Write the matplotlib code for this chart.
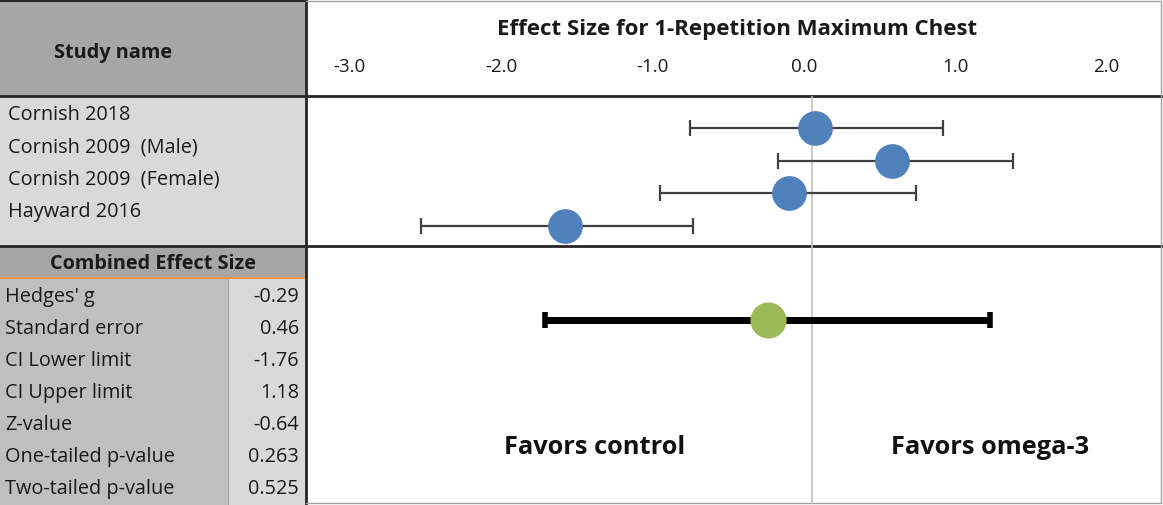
import matplotlib.pyplot as plt
from matplotlib.patches import Rectangle
import numpy as np

plt.rcParams['font.family'] = ['Open Sans', 'DejaVu Sans']

# study-level effect sizes (Hedges' g) with 95% CI
studies = ['Cornish 2018', 'Cornish 2009  (Male)', 'Cornish 2009  (Female)', 'Hayward 2016']
g = np.array([0.02, 0.53, -0.15, -1.63])
ci_lo = np.array([-0.80, -0.22, -1.00, -2.58])
ci_hi = np.array([0.87, 1.33, 0.69, -0.78])

# combined effect
comb_g = -0.29
comb_lo = -1.76
comb_hi = 1.18
stat_names = ["Hedges' g", 'Standard error', 'CI Lower limit', 'CI Upper limit',
              'Z-value', 'One-tailed p-value', 'Two-tailed p-value']
stat_vals = ['-0.29', '0.46', '-1.76', '1.18', '-0.64', '0.263', '0.525']
xticks = [-3.0, -2.0, -1.0, 0.0, 1.0, 2.0]

W, H = 1163, 505
fig = plt.figure(figsize=(W / 100, H / 100), dpi=100)

# left table drawn in pixel coordinates
tb = fig.add_axes([0, 0, 1, 1])
tb.set_xlim(0, W)
tb.set_ylim(H, 0)
tb.axis('off')

def box(x0, y0, x1, y1, fc):
    tb.add_patch(Rectangle((x0, y0), x1 - x0, y1 - y0, fc=fc, ec='none'))

box(0, 0, 306, 96, '#a6a6a6')
box(0, 96, 306, 246, '#d9d9d9')
box(0, 246, 306, 278, '#a6a6a6')
box(0, 278, 228, H, '#bfbfbf')
box(228, 278, 306, H, '#d9d9d9')
tb.plot([0, 306], [278, 278], color='#f79646', lw=1.5)
tb.plot([228, 228], [279, H], color='#a6a6a6', lw=0.8)

fs = 14.3
tb.text(113, 53, 'Study name', ha='center', va='center', fontsize=fs, fontweight='bold', color='#1a1a1a')
for i, s in enumerate(studies):
    tb.text(8, 115 + i * 32.3, s, ha='left', va='center', fontsize=fs, color='#1a1a1a')
tb.text(153, 264, 'Combined Effect Size', ha='center', va='center', fontsize=fs, fontweight='bold', color='#1a1a1a')
for i, (n, v) in enumerate(zip(stat_names, stat_vals)):
    y = 297 + i * 32
    tb.text(5, y, n, ha='left', va='center', fontsize=fs, color='#1a1a1a')
    tb.text(299, y, v, ha='right', va='center', fontsize=fs, color='#1a1a1a')

# grid lines of the table
tb.plot([0, W], [96, 96], color='#262626', lw=2)
tb.plot([0, W], [246, 246], color='#262626', lw=2)
tb.plot([306, 306], [0, H], color='#262626', lw=2)
tb.plot([0, 306], [1, 1], color='#262626', lw=1.5)
tb.plot([306, 1161, 1161, 306], [1, 1, 503, 503], color='#a0a0a0', lw=1)

# forest plot axes
zero_px, unit_px = 811.5, 151.4
ax = fig.add_axes([307 / W, 0, (W - 307) / W, 1])
ax.set_xlim((307 - zero_px) / unit_px, (W - zero_px) / unit_px)
ax.set_ylim(H, 0)
ax.axis('off')
ax.patch.set_alpha(0)

ax.plot([0, 0], [97, 503], color='#c0c0c0', lw=1.2, zorder=1)

rows_y = 128 + np.arange(len(studies)) * 32.5
ax.errorbar(g, rows_y, xerr=[g - ci_lo, ci_hi - g], fmt='none', ecolor='#404040',
            elinewidth=1.6, capsize=6, capthick=1.6, zorder=2)
ax.plot(g, rows_y, 'o', ms=25, color='#4f81bd', mec='none', zorder=3)

ax.errorbar([comb_g], [320], xerr=[[comb_g - comb_lo], [comb_hi - comb_g]], fmt='none',
            ecolor='black', elinewidth=5, capsize=6, capthick=4, zorder=2)
ax.plot([comb_g], [320], 'o', ms=26, color='#9bbb59', mec='none', zorder=3)

ax.text(-0.49, 30, 'Effect Size for 1-Repetition Maximum Chest', ha='center', va='center',
        fontsize=16, fontweight='bold', color='#1a1a1a')
for t in xticks:
    ax.text(t - 0.05, 67, f'{t:.1f}', ha='center', va='center', fontsize=13.5, color='#1a1a1a')

ax.text(-1.43, 447, 'Favors control', ha='center', va='center', fontsize=18.3, fontweight='bold', color='#111111')
ax.text(1.18, 447, 'Favors omega-3', ha='center', va='center', fontsize=18.3, fontweight='bold', color='#111111')

fig.savefig('out.png', dpi=100)
